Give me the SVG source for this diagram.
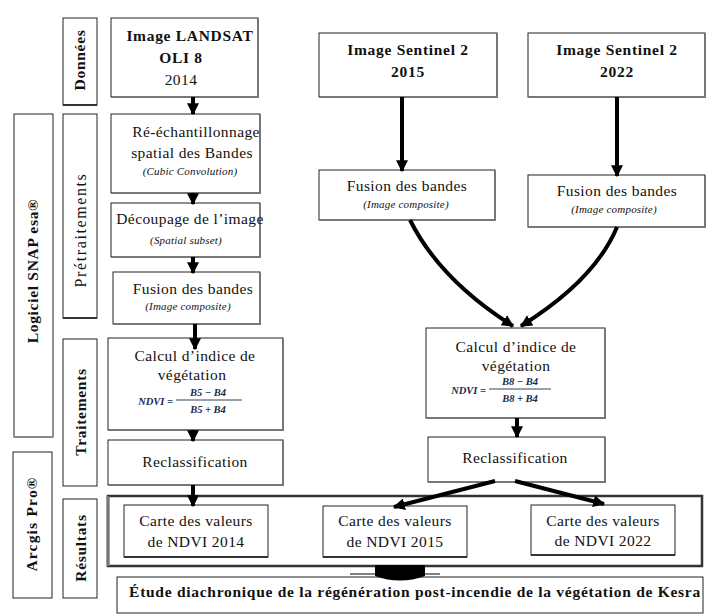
<svg xmlns="http://www.w3.org/2000/svg" width="708" height="615" viewBox="0 0 708 615">
<defs>
<marker id="ah" viewBox="0 0 10 10" refX="9" refY="5" markerWidth="3" markerHeight="3" orient="auto">
<path d="M0,0 L10,5 L0,10 Z" fill="#000"/>
</marker>
<style>
.box{fill:#fff;stroke:#222;stroke-width:1}
.shd{fill:none;stroke:#777;stroke-width:2}
.lbl{fill:#fff;stroke:#222;stroke-width:1}
.t{font-family:"Liberation Serif","Times New Roman",serif;font-size:15.5px;letter-spacing:0.4px;fill:#111;text-anchor:middle}
.b{font-weight:bold;letter-spacing:0.7px}
.i{font-style:italic;font-size:11px;letter-spacing:0.2px}
.f{font-family:"Liberation Serif",serif;font-weight:bold;font-style:italic;font-size:10.5px;fill:#1b2a4a}
.ar{stroke:#000;stroke-width:4;fill:none;marker-end:url(#ah)}
</style>
</defs>
<rect width="708" height="615" fill="#fff"/>

<g id="lbl-donnees"><rect class="lbl" x="63" y="18" width="34" height="87"/><line x1="63" y1="105" x2="97" y2="105" stroke="#333" stroke-width="2"/><text class="t b" transform="translate(85,60) rotate(-90)">Données</text></g>
<g id="lbl-snap"><rect class="lbl" x="14" y="114" width="39" height="323"/><line x1="14" y1="437" x2="53" y2="437" stroke="#888" stroke-width="2"/><text class="t b" transform="translate(38,271) rotate(-90)">Logiciel SNAP esa®</text></g>
<g id="lbl-pretraitements"><rect class="lbl" x="63" y="114" width="34" height="204"/><line x1="63" y1="318" x2="97" y2="318" stroke="#333" stroke-width="2"/><text class="t" style="font-size:16px;letter-spacing:1.6px" transform="translate(86,230) rotate(-90)">Prétraitements</text></g>
<g id="lbl-traitements"><rect class="lbl" x="63" y="339" width="34" height="147"/><text class="t b" transform="translate(86,412) rotate(-90)">Traitements</text></g>
<g id="lbl-arcgis"><rect class="lbl" x="13" y="452" width="39" height="146"/><text class="t b" style="letter-spacing:1.2px" transform="translate(37,524) rotate(-90)">Arcgis Pro®</text></g>
<g id="lbl-resultats"><rect class="lbl" x="63" y="499" width="34" height="99"/><text class="t b" transform="translate(86,548) rotate(-90)">Résultats</text></g>

<g id="results-frame"><rect x="108" y="496" width="594" height="70" fill="none" stroke="#333" stroke-width="2.5"/><line x1="108" y1="496" x2="108" y2="566" stroke="#777" stroke-width="3"/></g>

<g id="landsat"><rect class="box" x="111" y="18" width="147" height="79"/><path class="shd" d="M258,19 V97 H112"/><text class="t b" x="190" y="41">Image LANDSAT</text><text class="t b" x="181" y="63">OLI 8</text><text class="t" x="181" y="85">2014</text></g>
<g id="s2015"><rect class="box" x="319" y="33" width="178" height="64"/><path class="shd" d="M497,34 V97 H320"/><text class="t b" x="408" y="55">Image Sentinel 2</text><text class="t b" x="408" y="77">2015</text></g>
<g id="s2022"><rect class="box" x="528" y="33" width="177" height="64"/><path class="shd" d="M705,34 V97 H529"/><text class="t b" x="617" y="55">Image Sentinel 2</text><text class="t b" x="617" y="77">2022</text></g>

<g id="reech"><rect class="box" x="111" y="114" width="149" height="79"/><path class="shd" d="M260,115 V193 H112"/><text class="t" x="196" y="137">Ré-échantillonnage</text><text class="t" x="192" y="158">spatial des Bandes</text><text class="t i" x="190" y="175">(Cubic Convolution)</text></g>
<g id="decoupage"><rect class="box" x="111" y="203" width="149" height="54"/><path class="shd" d="M260,204 V257 H112"/><text class="t" x="190" y="224">Découpage de l’image</text><text class="t i" x="186" y="244">(Spatial subset)</text></g>
<g id="fusion-l"><rect class="box" x="113" y="272" width="147" height="52"/><path class="shd" d="M260,273 V324 H114"/><text class="t" x="193" y="294">Fusion des bandes</text><text class="t i" x="188" y="310">(Image composite)</text></g>
<g id="fusion-2015"><rect class="box" x="319" y="170" width="176" height="50"/><path class="shd" d="M495,171 V220 H320"/><text class="t" x="407" y="191">Fusion des bandes</text><text class="t i" x="406" y="208">(Image composite)</text></g>
<g id="fusion-2022"><rect class="box" x="528" y="175" width="177" height="52"/><path class="shd" d="M705,176 V227 H529"/><text class="t" x="617" y="196">Fusion des bandes</text><text class="t i" x="614" y="213">(Image composite)</text></g>

<g id="calcul-l"><rect class="box" x="108" y="338" width="175" height="92"/><path class="shd" d="M283,339 V430 H109"/><text class="t" x="195" y="361">Calcul d’indice de</text><text class="t" x="192" y="380">végétation</text><text class="f" x="173" y="405" text-anchor="end">NDVI =</text><text class="f" x="208" y="396" text-anchor="middle">B5 − B4</text><line x1="176" y1="400" x2="242" y2="400" stroke="#1b2a4a" stroke-width="0.9"/><text class="f" x="208" y="413" text-anchor="middle">B5 + B4</text></g>
<g id="calcul-r"><rect class="box" x="426" y="328" width="179" height="90"/><path class="shd" d="M605,329 V418 H427"/><text class="t" x="516" y="352">Calcul d’indice de</text><text class="t" x="516" y="371">végétation</text><text class="f" x="486" y="394" text-anchor="end">NDVI =</text><text class="f" x="520" y="385" text-anchor="middle">B8 − B4</text><line x1="489" y1="389" x2="551" y2="389" stroke="#1b2a4a" stroke-width="0.9"/><text class="f" x="520" y="402" text-anchor="middle">B8 + B4</text></g>

<g id="reclass-l"><rect class="box" x="108" y="440" width="175" height="45"/><path class="shd" d="M283,441 V485 H109"/><text class="t" x="195" y="467">Reclassification</text></g>
<g id="reclass-r"><rect class="box" x="428" y="437" width="177" height="45"/><path class="shd" d="M605,438 V482 H429"/><text class="t" x="515" y="463">Reclassification</text></g>

<g id="carte-2014"><rect class="box" x="124" y="505" width="144" height="52"/><path d="M124,557 H268" stroke="#333" stroke-width="2"/><text class="t" x="196" y="526">Carte des valeurs</text><text class="t" x="196" y="547">de NDVI 2014</text></g>
<g id="carte-2015"><rect class="box" x="323" y="506" width="144" height="51"/><path d="M323,557 H467" stroke="#333" stroke-width="2"/><text class="t" x="395" y="526">Carte des valeurs</text><text class="t" x="395" y="547">de NDVI 2015</text></g>
<g id="carte-2022"><rect class="box" x="531" y="505" width="144" height="50"/><path d="M531,555 H675" stroke="#333" stroke-width="2"/><text class="t" x="603" y="526">Carte des valeurs</text><text class="t" x="603" y="546">de NDVI 2022</text></g>

<g id="etude"><rect class="box" x="117" y="577" width="586" height="36"/><text class="t b" style="letter-spacing:0.72px" x="415" y="597">Étude diachronique de la régénération post-incendie de la végétation de Kesra</text></g>

<g id="connectors">
<line class="ar" x1="193" y1="97" x2="193" y2="114"/>
<line class="ar" x1="193" y1="193" x2="193" y2="204"/>
<line class="ar" x1="193" y1="257" x2="193" y2="273"/>
<line class="ar" x1="195" y1="324" x2="195" y2="349"/>
<line class="ar" x1="193" y1="430" x2="193" y2="441"/>
<line class="ar" x1="193" y1="485" x2="193" y2="506"/>
<line class="ar" x1="402" y1="97" x2="402" y2="171"/>
<line class="ar" x1="617" y1="97" x2="617" y2="176"/>
<path class="ar" d="M410,220 Q440,280 513,326"/>
<path class="ar" d="M617,227 Q595,280 521,326"/>
<line class="ar" x1="517" y1="418" x2="517" y2="437"/>
<line class="ar" x1="495" y1="481" x2="394" y2="507"/>
<line class="ar" x1="515" y1="481" x2="604" y2="504"/>
<line x1="350" y1="574" x2="440" y2="574" stroke="#000" stroke-width="1.2"/>
<path d="M375,565 H425 V576 Q400,585 375,576 Z" fill="#000"/>
</g>
</svg>
